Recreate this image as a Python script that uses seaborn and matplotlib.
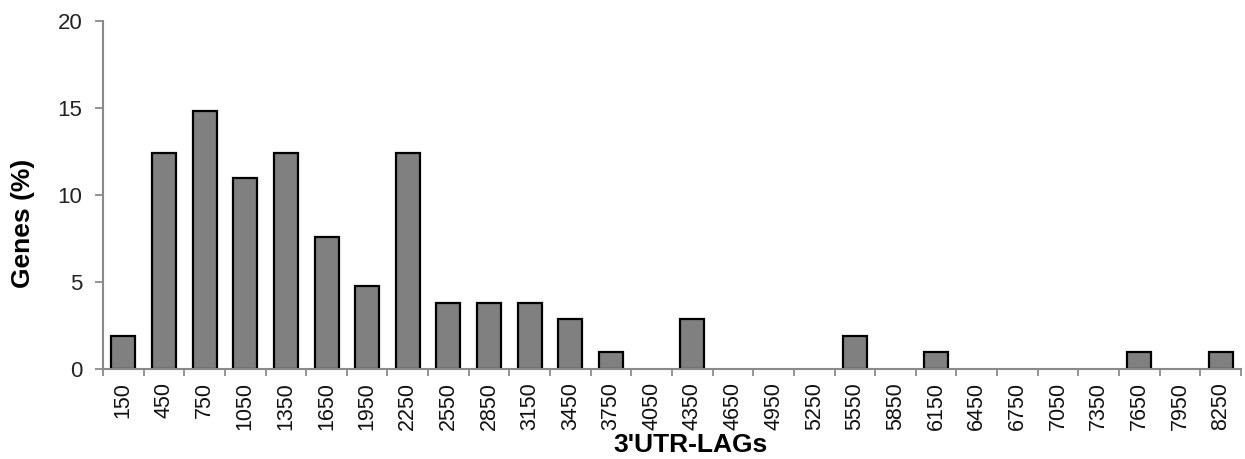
import matplotlib
matplotlib.use("Agg")
import matplotlib.pyplot as plt
import seaborn as sns
import pandas as pd
import numpy as np

categories = ["150", "450", "750", "1050", "1350", "1650", "1950", "2250", "2550",
              "2850", "3150", "3450", "3750", "4050", "4350", "4650", "4950", "5250",
              "5550", "5850", "6150", "6450", "6750", "7050", "7350", "7650", "7950", "8250"]
genes_pct = [1.9, 12.4, 14.8, 11.0, 12.4, 7.6, 4.8, 12.4, 3.8,
             3.8, 3.8, 2.9, 1.0, 0.0, 2.9, 0.0, 0.0, 0.0,
             1.9, 0.0, 1.0, 0.0, 0.0, 0.0, 0.0, 1.0, 0.0, 1.0]
y_ticks = [0, 5, 10, 15, 20]

sns.set_style("white")
plt.rcParams['font.family'] = ['Liberation Sans', 'DejaVu Sans']
plt.rcParams['text.color'] = 'black'
plt.rcParams['xtick.color'] = 'black'
plt.rcParams['ytick.color'] = 'black'
plt.rcParams['axes.labelcolor'] = 'black'

df = pd.DataFrame({"bin": categories, "pct": genes_pct})

fig = plt.figure(figsize=(12.45, 4.59), dpi=100)
ax = fig.add_axes([103/1245, 1 - 369.3/459, 1138/1245, (369.3 - 20.7)/459])

sns.barplot(data=df, x="bin", y="pct", ax=ax, color="#808080", saturation=1,
            width=0.59, edgecolor="black", linewidth=1.6)
for p in ax.patches:
    if p.get_height() == 0:
        p.set_linewidth(0)

ax.set_xlim(-0.5, len(categories) - 0.5)
ax.set_ylim(0, 20)
ax.set_yticks(y_ticks)

for s in ["top", "right"]:
    ax.spines[s].set_visible(False)
for s in ["left", "bottom"]:
    ax.spines[s].set_color("#8a8a8a")
    ax.spines[s].set_linewidth(1.5)

ax.tick_params(axis="y", which="major", direction="out", length=6, width=1.3,
               color="#8a8a8a", labelcolor="#222222", labelsize=16, pad=9, left=True)
ax.tick_params(axis="x", which="major", length=0, labelsize=15.5, pad=9,
               labelcolor="#111111", labelrotation=90)
ax.set_xticks(np.arange(-0.5, len(categories), 1.0), minor=True)
ax.tick_params(axis="x", which="minor", direction="out", length=5, width=1.3,
               color="#8a8a8a", bottom=True)

ax.set_ylabel("Genes (%)", fontsize=19, fontweight="bold")
ax.yaxis.set_label_coords(-0.06, 0.42)
ax.set_xlabel("3'UTR-LAGs", fontsize=19, fontweight="bold")
ax.xaxis.set_label_coords(0.516, -0.183)

fig.savefig("out.png", dpi=100, facecolor="white")
